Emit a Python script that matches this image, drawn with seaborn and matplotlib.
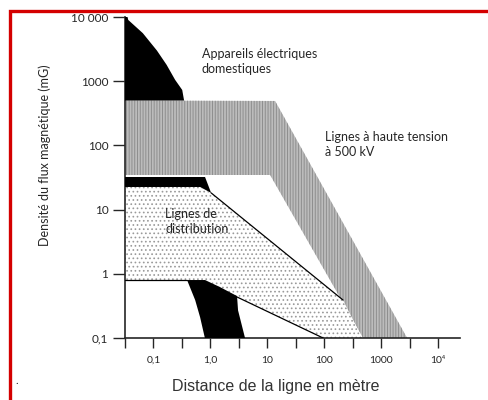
import numpy as np
import pandas as pd
import matplotlib
matplotlib.use("Agg")
import matplotlib.pyplot as plt
import seaborn as sns
from matplotlib.patches import Rectangle

# ── data (distance in m, flux density in mG) ──
appliance_top_x = [0.0316, 0.035, 0.036, 0.065, 0.115, 0.17, 0.24, 0.32, 0.345, 0.0316]
appliance_top_y = [10000, 10000, 9000, 5600, 3000, 1800, 1050, 730, 500, 500]

hv_band_x = [0.0316, 13.7, 2860, 482, 11.2, 0.0316]
hv_band_y = [500, 492, 0.1, 0.1, 34.6, 34.6]

black_band_x = [0.0316, 0.805, 1.03, 0.66, 0.0316]
black_band_y = [32.2, 32.2, 18.2, 22.5, 22.5]

distrib_x = [0.0316, 0.66, 1.03, 214, 463, 95.5, 2.94, 0.389, 0.0316]
distrib_y = [22.5, 22.5, 18.2, 0.39, 0.1, 0.1, 0.435, 0.8, 0.8]

appliance_low_x = [0.389, 0.805, 1.48, 2.94, 3.06, 4.06, 0.80, 0.66, 0.54, 0.389]
appliance_low_y = [0.8, 0.8, 0.62, 0.45, 0.27, 0.1, 0.1, 0.21, 0.39, 0.8]

# outline lines of the distribution zone
upper_line_x = [1.03, 214]
upper_line_y = [18.2, 0.39]
lower_line_x = [2.94, 95.5]
lower_line_y = [0.435, 0.1]
flat_line_x = [0.0316, 0.389]
flat_line_y = [0.8, 0.8]

y_ticks = [0.1, 1, 10, 100, 1000, 10000]
y_labels = ["0,1", "1", "10", "100", "1000", "10 000"]
x_ticks = [10 ** (k / 2) for k in range(-3, 9)]
x_labels = ["", "0,1", "", "1,0", "", "10", "", "100", "", "1000", "", "10⁴"]

sns.set_style("ticks")
narrow = ["Lato", "DejaVu Sans"]
plt.rcParams["font.family"] = narrow
plt.rcParams["hatch.linewidth"] = 0.7

fig = plt.figure(figsize=(4.89, 4.0), dpi=100)
ax = fig.add_axes([125 / 489, 1 - 338 / 400, 335 / 489, 321 / 400])
ax.set_xscale("log")
ax.set_yscale("log")
ax.set_xlim(0.0316, 24300)
ax.set_ylim(0.1, 10000)

# high voltage band (grey hatched)
ax.fill(hv_band_x, hv_band_y, facecolor="#bcbcbc", edgecolor="#8e8e8e",
        hatch="||||||", linewidth=0, zorder=1)
# distribution lines zone (dotted)
ax.fill(distrib_x, distrib_y, facecolor="white", edgecolor="#9a9a9a",
        hatch="....", linewidth=0, zorder=2)
# black zones
ax.fill(appliance_top_x, appliance_top_y, color="black", linewidth=0, zorder=3)
ax.fill(black_band_x, black_band_y, color="black", linewidth=0, zorder=3)
ax.fill(appliance_low_x, appliance_low_y, color="black", linewidth=0, zorder=3)

lines = pd.DataFrame({
    "x": upper_line_x + lower_line_x + flat_line_x,
    "y": upper_line_y + lower_line_y + flat_line_y,
    "part": ["up"] * 2 + ["low"] * 2 + ["flat"] * 2,
})
sns.lineplot(data=lines, x="x", y="y", units="part", estimator=None,
             sort=False, color="black", linewidth=0.9, ax=ax, zorder=4)

ax.text(0.71, 2000, "Appareils électriques\ndomestiques", fontsize=9,
        va="center", ha="left", linespacing=1.3)
ax.text(103, 105, "Lignes à haute tension\nà 500 kV", fontsize=9,
        va="center", ha="left", linespacing=1.3)
ax.text(0.16, 6.6, "Lignes de\ndistribution", fontsize=9,
        va="center", ha="left", linespacing=1.3, zorder=5)

ax.set_yticks(y_ticks)
ax.set_yticklabels(y_labels)
ax.set_xticks(x_ticks)
ax.set_xticklabels(x_labels)
ax.minorticks_off()
ax.tick_params(axis="y", direction="out", length=8.5, width=1, pad=3.5,
               labelsize=8.5)
ax.tick_params(axis="x", direction="out", length=7, width=1, pad=6,
               labelsize=7.5)
ax.set_xlabel("")
ax.set_ylabel("")
sns.despine(ax=ax)
for side in ["left", "bottom"]:
    ax.spines[side].set_linewidth(1.2)

fig.text(45 / 489, 1 - 155 / 400, "Densité du flux magnétique (mG)",
         rotation=90, ha="center", va="center", fontsize=9)
fig.text(276 / 489, 1 - 386 / 400, "Distance de la ligne en mètre",
         ha="center", va="center", fontsize=11.5, color="#333333",
         family=["Liberation Sans", "DejaVu Sans"])
fig.text(17 / 489, 1 - 381 / 400, ".", ha="center", va="center", fontsize=8)

# red frame of the original page
fig.add_artist(Rectangle((9.5 / 489, -0.1), 1.2, 1 - 11 / 400 + 0.1,
                         transform=fig.transFigure, fill=False,
                         edgecolor="#d40000", linewidth=2.4))

fig.savefig("out.png", dpi=100)
